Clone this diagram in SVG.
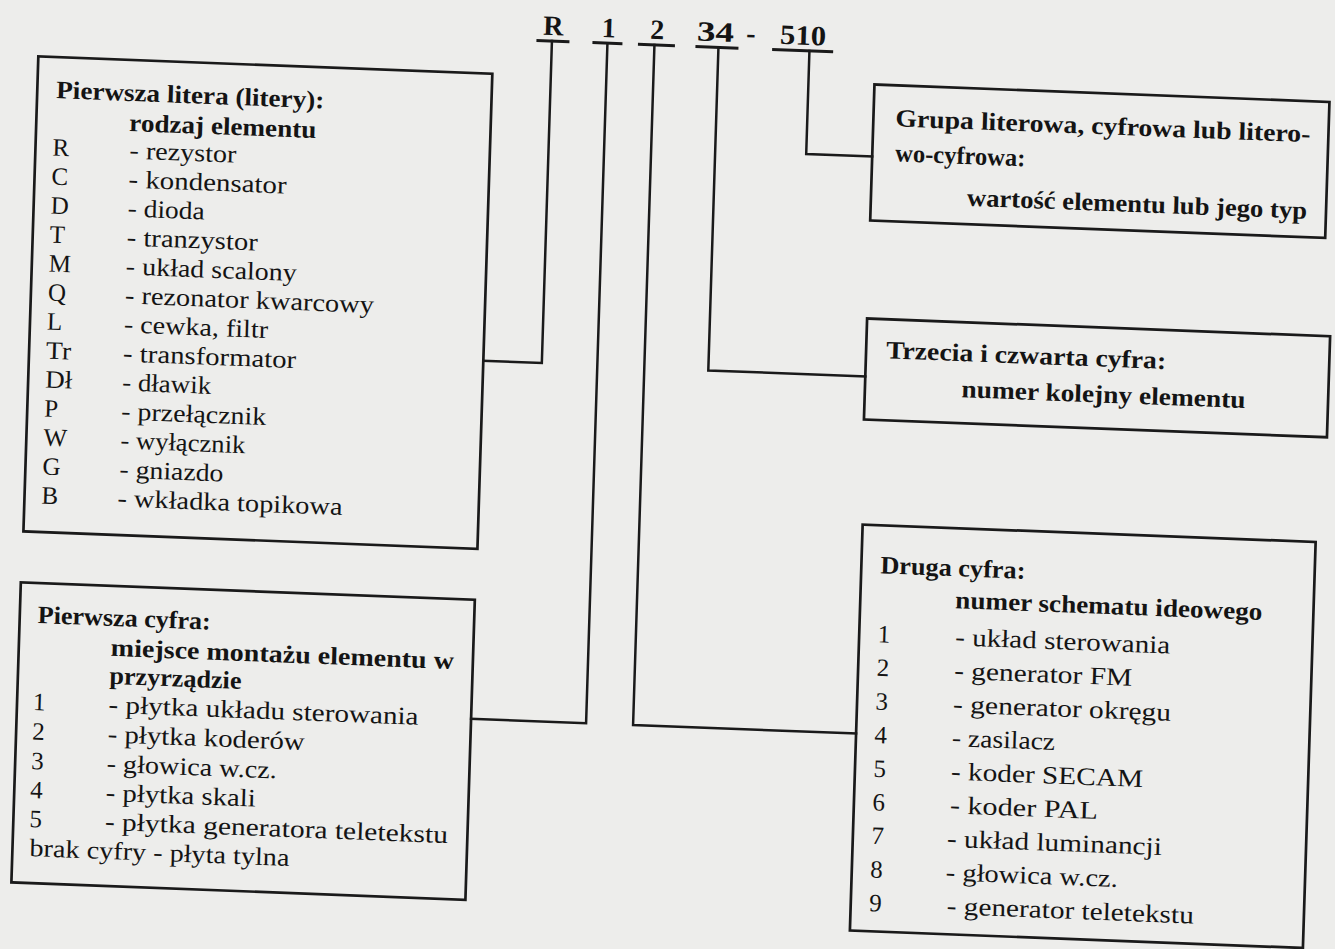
<svg xmlns="http://www.w3.org/2000/svg" width="1335" height="949" viewBox="0 0 1335 949">
  <style>
    .paper{fill:#ededeb}
    .box{fill:none;stroke:#1a1a1a;stroke-width:2.7}
    .wire{fill:none;stroke:#1a1a1a;stroke-width:2.5;stroke-linejoin:miter;stroke-linecap:square}
    .ul{stroke:#1a1a1a;stroke-width:3}
    text{font-family:"Liberation Serif","Times New Roman",serif;fill:#141414;font-size:25px}
    .b{font-weight:bold}
    .code{font-weight:bold;font-size:28px;text-anchor:middle}
  </style>
  <rect class="paper" width="1335" height="949"/>
  <!-- the printed page sits slightly skewed on the sheet -->
  <g transform="matrix(1 0.0384 -0.0314 1 14.88 -25.61)">
    <!-- component designator R 1 2 34 - 510 -->
    <g id="designator">
      <text class="code" x="539.6" y="40">R</text>
      <text class="code" x="595" y="40">1</text>
      <text class="code" x="643.3" y="40">2</text>
      <text class="code" x="701.6" y="40" textLength="37" lengthAdjust="spacingAndGlyphs">34</text>
      <text class="code" x="737" y="40">-</text>
      <text class="code" x="789.2" y="40" textLength="46" lengthAdjust="spacingAndGlyphs">510</text>
      <line class="ul" x1="523" y1="46" x2="556" y2="46"/>
      <line class="ul" x1="579" y1="46" x2="609" y2="46"/>
      <line class="ul" x1="624.5" y1="46" x2="661.5" y2="46"/>
      <line class="ul" x1="682" y1="46" x2="725" y2="46"/>
      <line class="ul" x1="758.7" y1="46" x2="819.7" y2="46"/>
    </g>

    <g id="connectors">
      <path class="wire" d="M538.5,46 V368 H480"/>
      <path class="wire" d="M594,46 V726 H479"/>
      <path class="wire" d="M641,46 V726 H864"/>
      <path class="wire" d="M705,46 V369 H862"/>
      <path class="wire" d="M796,46 V149 H862"/>
    </g>

    <!-- first letter(s): element kind -->
    <g id="box-letter">
      <rect class="box" x="26" y="81" width="454" height="475"/>
      <text class="b" x="45" y="122" textLength="268" lengthAdjust="spacingAndGlyphs">Pierwsza litera (litery):</text>
      <text class="b" x="119" y="152" textLength="187" lengthAdjust="spacingAndGlyphs">rodzaj elementu</text>
      <text x="43" y="179.5">R</text>
      <text x="120" y="179.5" textLength="107" lengthAdjust="spacingAndGlyphs">- rezystor</text>
      <text x="43" y="208.5">C</text>
      <text x="120" y="208.5" textLength="158" lengthAdjust="spacingAndGlyphs">- kondensator</text>
      <text x="43" y="237.5">D</text>
      <text x="120" y="237.5" textLength="77" lengthAdjust="spacingAndGlyphs">- dioda</text>
      <text x="43" y="266.5">T</text>
      <text x="120" y="266.5" textLength="131" lengthAdjust="spacingAndGlyphs">- tranzystor</text>
      <text x="43" y="295.5">M</text>
      <text x="120" y="295.5" textLength="171" lengthAdjust="spacingAndGlyphs">- układ scalony</text>
      <text x="43" y="324.5">Q</text>
      <text x="120" y="324.5" textLength="249" lengthAdjust="spacingAndGlyphs">- rezonator kwarcowy</text>
      <text x="43" y="353.5">L</text>
      <text x="120" y="353.5" textLength="144" lengthAdjust="spacingAndGlyphs">- cewka, filtr</text>
      <text x="43" y="382.5" textLength="25" lengthAdjust="spacingAndGlyphs">Tr</text>
      <text x="120" y="382.5" textLength="173" lengthAdjust="spacingAndGlyphs">- transformator</text>
      <text x="43" y="411.5" textLength="27" lengthAdjust="spacingAndGlyphs">Dł</text>
      <text x="120" y="411.5" textLength="89" lengthAdjust="spacingAndGlyphs">- dławik</text>
      <text x="43" y="440.5">P</text>
      <text x="120" y="440.5" textLength="145" lengthAdjust="spacingAndGlyphs">- przełącznik</text>
      <text x="43" y="469.5">W</text>
      <text x="120" y="469.5" textLength="125" lengthAdjust="spacingAndGlyphs">- wyłącznik</text>
      <text x="43" y="498.5">G</text>
      <text x="120" y="498.5" textLength="104" lengthAdjust="spacingAndGlyphs">- gniazdo</text>
      <text x="43" y="527.5">B</text>
      <text x="119" y="527.5" textLength="225" lengthAdjust="spacingAndGlyphs">- wkładka topikowa</text>
    </g>

    <!-- first digit: mounting place -->
    <g id="box-first-digit">
      <rect class="box" x="25" y="607" width="454" height="300"/>
      <text class="b" x="43" y="647" textLength="173" lengthAdjust="spacingAndGlyphs">Pierwsza cyfra:</text>
      <text class="b" x="117" y="677" textLength="343" lengthAdjust="spacingAndGlyphs">miejsce montażu elementu w</text>
      <text class="b" x="116.5" y="705" textLength="132" lengthAdjust="spacingAndGlyphs">przyrządzie</text>
      <text x="41" y="734">1</text>
      <text x="116.5" y="734" textLength="310" lengthAdjust="spacingAndGlyphs">- płytka układu sterowania</text>
      <text x="41" y="763.5">2</text>
      <text x="116.5" y="763.5" textLength="197" lengthAdjust="spacingAndGlyphs">- płytka koderów</text>
      <text x="41" y="793">3</text>
      <text x="116.5" y="793" textLength="170" lengthAdjust="spacingAndGlyphs">- głowica w.cz.</text>
      <text x="41" y="822">4</text>
      <text x="116.5" y="822" textLength="150" lengthAdjust="spacingAndGlyphs">- płytka skali</text>
      <text x="41" y="851">5</text>
      <text x="116.5" y="851" textLength="343" lengthAdjust="spacingAndGlyphs">- płytka generatora teletekstu</text>
      <text x="42" y="880" textLength="260" lengthAdjust="spacingAndGlyphs">brak cyfry - płyta tylna</text>
    </g>

    <!-- trailing group: value or type -->
    <g id="box-value">
      <rect class="box" x="862" y="77" width="455" height="136"/>
      <text class="b" x="884" y="118" textLength="415" lengthAdjust="spacingAndGlyphs">Grupa literowa, cyfrowa lub litero-</text>
      <text class="b" x="885" y="153" textLength="130" lengthAdjust="spacingAndGlyphs">wo-cyfrowa:</text>
      <text class="b" x="958" y="194.5" textLength="340" lengthAdjust="spacingAndGlyphs">wartość elementu lub jego typ</text>
    </g>

    <!-- third and fourth digit: serial number -->
    <g id="box-serial">
      <rect class="box" x="862" y="311" width="463" height="101"/>
      <text class="b" x="882" y="350" textLength="280" lengthAdjust="spacingAndGlyphs">Trzecia i czwarta cyfra:</text>
      <text class="b" x="958.5" y="386" textLength="284" lengthAdjust="spacingAndGlyphs">numer kolejny elementu</text>
    </g>

    <!-- second digit: schematic number -->
    <g id="box-second-digit">
      <rect class="box" x="864" y="517" width="453" height="406"/>
      <text class="b" x="883" y="565" textLength="145" lengthAdjust="spacingAndGlyphs">Druga cyfra:</text>
      <text class="b" x="959" y="597" textLength="307" lengthAdjust="spacingAndGlyphs">numer schematu ideowego</text>
      <text x="882.5" y="634">1</text>
      <text x="960" y="634" textLength="215" lengthAdjust="spacingAndGlyphs">- układ sterowania</text>
      <text x="882.5" y="667.6">2</text>
      <text x="960" y="667.6" textLength="178" lengthAdjust="spacingAndGlyphs">- generator FM</text>
      <text x="882.5" y="701.2">3</text>
      <text x="960" y="701.2" textLength="218" lengthAdjust="spacingAndGlyphs">- generator okręgu</text>
      <text x="882.5" y="734.8">4</text>
      <text x="960" y="734.8" textLength="103" lengthAdjust="spacingAndGlyphs">- zasilacz</text>
      <text x="882.5" y="768.4">5</text>
      <text x="960" y="768.4" textLength="192" lengthAdjust="spacingAndGlyphs">- koder SECAM</text>
      <text x="882.5" y="802">6</text>
      <text x="960" y="802" textLength="148" lengthAdjust="spacingAndGlyphs">- koder PAL</text>
      <text x="882.5" y="835.6">7</text>
      <text x="958" y="835.6" textLength="215" lengthAdjust="spacingAndGlyphs">- układ luminancji</text>
      <text x="882.5" y="869.2">8</text>
      <text x="958" y="869.2" textLength="172" lengthAdjust="spacingAndGlyphs">- głowica w.cz.</text>
      <text x="882.5" y="902.8">9</text>
      <text x="960" y="902.8" textLength="247" lengthAdjust="spacingAndGlyphs">- generator teletekstu</text>
    </g>
  </g>
</svg>
